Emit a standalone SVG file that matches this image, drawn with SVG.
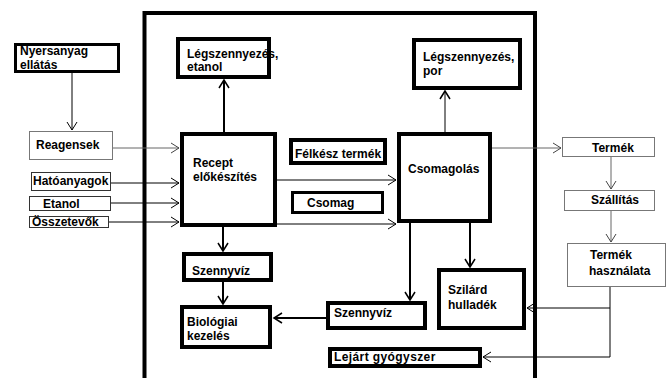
<svg xmlns="http://www.w3.org/2000/svg" width="667" height="378" viewBox="0 0 667 378">
<style>
text{font-family:"Liberation Sans",Arial,sans-serif;font-weight:bold;font-size:12px;fill:#000}
.thick{fill:#fff;stroke:#000;stroke-width:4}
.med{fill:#fff;stroke:#000;stroke-width:3}
.thin{fill:#fff;stroke:#333;stroke-width:1}
.grey{fill:#fff;stroke:#777;stroke-width:1}
.c{fill:none;stroke:#000;stroke-width:1}
.cg{fill:none;stroke:#666;stroke-width:1}
.ct{fill:none;stroke:#000;stroke-width:2}
</style>
<defs>
<marker id="a" markerUnits="userSpaceOnUse" markerWidth="12" markerHeight="12" refX="8" refY="5" orient="auto" overflow="visible">
<path d="M0,0 L8,5 L0,10" fill="none" stroke="#000" stroke-width="1"/>
</marker>
<marker id="ag" markerUnits="userSpaceOnUse" markerWidth="12" markerHeight="12" refX="8" refY="5" orient="auto" overflow="visible">
<path d="M0,0 L8,5 L0,10" fill="none" stroke="#444" stroke-width="1"/>
</marker>
<marker id="at" markerUnits="userSpaceOnUse" markerWidth="12" markerHeight="12" refX="8" refY="5" orient="auto" overflow="visible">
<path d="M0,0 L8,5 L0,10" fill="none" stroke="#000" stroke-width="1.5"/>
</marker>
</defs>
<rect width="667" height="378" fill="#fff"/>
<path d="M144.5,400 V13 H535 V400" fill="none" stroke="#000" stroke-width="4"/>
<g id="connectors">
<path class="c" d="M72,73 V130" marker-end="url(#a)"/>
<path class="cg" d="M113,148 H179" marker-end="url(#ag)"/>
<path class="c" d="M111,183 H179" marker-end="url(#a)"/>
<path class="c" d="M111,203 H179" marker-end="url(#a)"/>
<path class="c" d="M109,222 H179" marker-end="url(#a)"/>
<path class="ct" d="M224,132 V80" marker-end="url(#at)"/>
<path class="c" d="M277,180 H396" marker-end="url(#a)"/>
<path class="c" d="M277,224 H396" marker-end="url(#a)"/>
<path class="c" d="M445,132 V91" stroke-width="1.5" marker-end="url(#at)"/>
<path class="cg" d="M492,148 H561" marker-end="url(#ag)"/>
<path class="cg" d="M611,157 V189" marker-end="url(#ag)"/>
<path class="cg" d="M611,211 V242" marker-end="url(#ag)"/>
<path class="c" d="M610,287 V308 H527" stroke="#333" marker-end="url(#a)"/>
<path class="c" d="M610,308 V357 H483" stroke="#333" marker-end="url(#a)"/>
<path class="ct" d="M470,223 V267" marker-end="url(#at)"/>
<path class="ct" d="M410,223 V300" marker-end="url(#at)"/>
<path class="ct" d="M326,318 H274" marker-end="url(#at)"/>
<path class="ct" d="M223,227 V251" marker-end="url(#at)"/>
<path class="ct" d="M223,282 V304" marker-end="url(#at)"/>
</g>
<g id="nyersanyag"><rect class="med" x="15.5" y="44.5" width="103" height="27"/><text x="20" y="55" font-size="11">Nyersanyag</text><text x="20" y="69" font-size="11">ellátás</text></g>
<g id="reagensek"><rect class="grey" x="29.5" y="131.5" width="83" height="28"/><text x="36" y="149">Reagensek</text></g>
<g id="hatoanyagok"><rect class="thin" x="31.5" y="172.5" width="79" height="18"/><text x="33" y="185">Hatóanyagok</text></g>
<g id="etanol"><rect class="thin" x="29.5" y="196.5" width="81" height="14"/><text x="43" y="208">Etanol</text></g>
<g id="osszetevok"><rect class="thin" x="29.5" y="216.5" width="79" height="11"/><text x="32" y="226">Összetevők</text></g>
<g id="legsz-etanol"><rect class="thick" x="178" y="39" width="91" height="38"/><text x="187" y="58">Légszennyezés,</text><text x="187" y="71">etanol</text></g>
<g id="legsz-por"><rect class="thick" x="414" y="40" width="106" height="48"/><text x="423" y="61">Légszennyezés,</text><text x="423" y="75">por</text></g>
<g id="recept"><rect class="thick" x="182" y="134" width="93" height="91"/><text x="193" y="167">Recept</text><text x="193" y="181">előkészítés</text></g>
<g id="felkesz"><rect class="thick" x="291" y="140" width="94" height="23"/><text x="295" y="158">Félkész termék</text></g>
<g id="csomag"><rect class="med" x="292.5" y="192.5" width="90" height="20"/><text x="307" y="207">Csomag</text></g>
<g id="csomagolas"><rect class="thick" x="399" y="134" width="91" height="87"/><text x="408" y="173">Csomagolás</text></g>
<g id="termek"><rect class="grey" x="562.5" y="137.5" width="92" height="19"/><text x="592" y="152">Termék</text></g>
<g id="szallitas"><rect class="grey" x="564.5" y="190.5" width="90" height="20"/><text x="591" y="204">Szállítás</text></g>
<g id="termek-hasznalata"><rect class="grey" x="567.5" y="243.5" width="98" height="43"/><text x="590" y="259">Termék</text><text x="589" y="275">használata</text></g>
<g id="szennyviz-l"><rect class="thick" x="184" y="254" width="87" height="26"/><text x="192" y="275">Szennyvíz</text></g>
<g id="biologiai"><rect class="thick" x="182" y="307" width="88" height="40"/><text x="187" y="326">Biológiai</text><text x="187" y="340">kezelés</text></g>
<g id="szennyviz-r"><rect class="thick" x="328" y="303" width="97" height="25"/><text x="334" y="317">Szennyvíz</text></g>
<g id="szilard"><rect class="thick" x="439" y="270" width="85" height="58"/><text x="448" y="294">Szilárd</text><text x="448" y="309">hulladék</text></g>
<g id="lejart"><rect class="thick" x="330" y="349" width="150" height="17"/><text x="334" y="361" letter-spacing="0.4">Lejárt gyógyszer</text></g>
</svg>
